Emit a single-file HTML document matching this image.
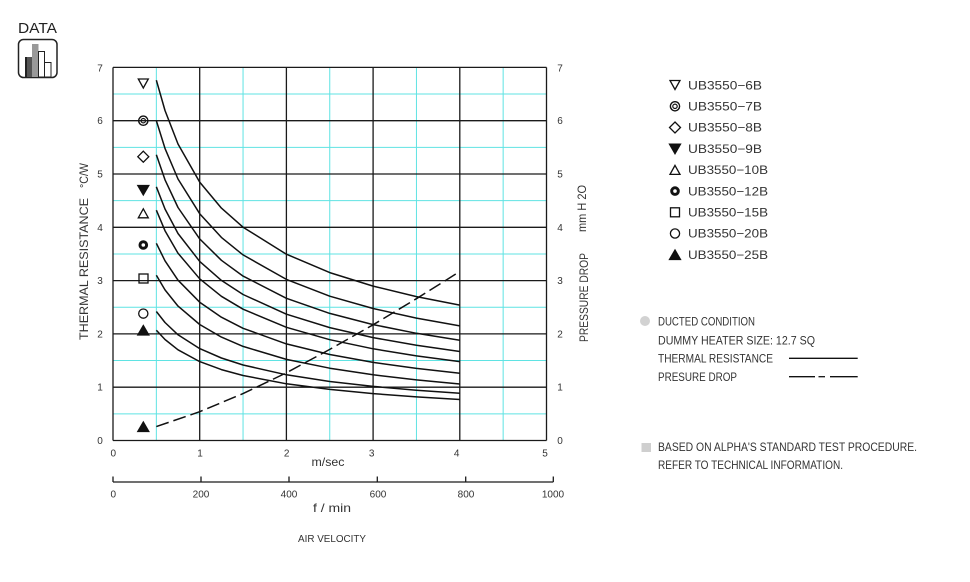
<!DOCTYPE html>
<html><head><meta charset="utf-8"><style>
html,body{margin:0;padding:0;background:#fff;}
svg{display:block;}
text{font-family:"Liberation Sans",sans-serif;fill:#333;}
</style></head><body>
<svg width="970" height="582" viewBox="0 0 970 582" xmlns="http://www.w3.org/2000/svg">
<rect width="970" height="582" fill="#fff"/>

<!-- DATA icon -->
<text x="18" y="33" font-size="15" textLength="39" lengthAdjust="spacingAndGlyphs" style="fill:#222">DATA</text>
<rect x="18.5" y="39.5" width="38.5" height="38" rx="5" fill="#fff" stroke="#222" stroke-width="1.5"/>
<rect x="25" y="57" width="7" height="20" fill="#555"/>
<rect x="25" y="57" width="2" height="20" fill="#222"/>
<rect x="32" y="44" width="6.5" height="33" fill="#999"/>
<rect x="38.5" y="51.5" width="6" height="25.5" fill="#fff" stroke="#222" stroke-width="1"/>
<rect x="44.5" y="62.5" width="6.5" height="14.5" fill="#fff" stroke="#222" stroke-width="1"/>

<!-- cyan half grid -->
<g stroke="#5fe3e3" stroke-width="1">
<line x1="156.35" y1="67.4" x2="156.35" y2="440.5"/>
<line x1="243.05" y1="67.4" x2="243.05" y2="440.5"/>
<line x1="329.75" y1="67.4" x2="329.75" y2="440.5"/>
<line x1="416.45" y1="67.4" x2="416.45" y2="440.5"/>
<line x1="503.15" y1="67.4" x2="503.15" y2="440.5"/>
<line x1="113" y1="413.85" x2="546.5" y2="413.85"/>
<line x1="113" y1="360.55" x2="546.5" y2="360.55"/>
<line x1="113" y1="307.25" x2="546.5" y2="307.25"/>
<line x1="113" y1="253.95" x2="546.5" y2="253.95"/>
<line x1="113" y1="200.65" x2="546.5" y2="200.65"/>
<line x1="113" y1="147.35" x2="546.5" y2="147.35"/>
<line x1="113" y1="94.05" x2="546.5" y2="94.05"/>
</g>
<!-- black grid -->
<g stroke="#1a1a1a" stroke-width="1.3">
<line x1="113" y1="67.4" x2="113" y2="440.5"/>
<line x1="199.7" y1="67.4" x2="199.7" y2="440.5"/>
<line x1="286.4" y1="67.4" x2="286.4" y2="440.5"/>
<line x1="373.1" y1="67.4" x2="373.1" y2="440.5"/>
<line x1="459.8" y1="67.4" x2="459.8" y2="440.5"/>
<line x1="546.5" y1="67.4" x2="546.5" y2="440.5"/>
<line x1="113" y1="440.5" x2="546.5" y2="440.5"/>
<line x1="113" y1="387.2" x2="546.5" y2="387.2"/>
<line x1="113" y1="333.9" x2="546.5" y2="333.9"/>
<line x1="113" y1="280.6" x2="546.5" y2="280.6"/>
<line x1="113" y1="227.3" x2="546.5" y2="227.3"/>
<line x1="113" y1="174" x2="546.5" y2="174"/>
<line x1="113" y1="120.7" x2="546.5" y2="120.7"/>
<line x1="113" y1="67.4" x2="546.5" y2="67.4"/>
</g>

<!-- curves -->
<g fill="none" stroke="#111" stroke-width="1.5" stroke-linejoin="round">
<polyline points="156.35,80.2 165,110.5 178,144 199.7,182.1 221.4,208.1 243.05,227.2 286.4,254.2 329.75,272.6 373.1,286.1 416.45,296.6 459.8,305.1"/>
<polyline points="156.35,120.7 165,148.4 178,179 199.7,213.7 221.4,237.4 243.05,254.9 286.4,279.4 329.75,296.2 373.1,308.5 416.45,318.1 459.8,325.9"/>
<polyline points="156.35,154.8 165,179.8 178,207.5 199.7,238.9 221.4,260.3 243.05,276.1 286.4,298.3 329.75,313.4 373.1,324.6 416.45,333.3 459.8,340.3"/>
<polyline points="156.35,186.8 165,209 178,233.5 199.7,261.4 221.4,280.4 243.05,294.5 286.4,314.2 329.75,327.6 373.1,337.6 416.45,345.3 459.8,351.5"/>
<polyline points="156.35,210.2 165,230.7 178,253.2 199.7,278.8 221.4,296.3 243.05,309.2 286.4,327.3 329.75,339.7 373.1,348.8 416.45,355.9 459.8,361.6"/>
<polyline points="156.35,243.3 165,260.8 178,280.2 199.7,302.2 221.4,317.2 243.05,328.3 286.4,343.9 329.75,354.5 373.1,362.4 416.45,368.4 459.8,373.3"/>
<polyline points="156.35,275.3 165,289.9 178,306.1 199.7,324.5 221.4,337.1 243.05,346.4 286.4,359.4 329.75,368.2 373.1,374.8 416.45,379.9 459.8,384"/>
<polyline points="156.35,311.5 165,322.5 178,334.8 199.7,348.6 221.4,358 243.05,365 286.4,374.8 329.75,381.5 373.1,386.4 416.45,390.2 459.8,393.3"/>
<polyline points="156.35,330.2 165,339.5 178,349.8 199.7,361.6 221.4,369.6 243.05,375.5 286.4,383.8 329.75,389.4 373.1,393.6 416.45,396.9 459.8,399.5"/>
<polyline stroke-dasharray="13 5" points="156.35,426.6 199.7,411.7 243.05,393.6 286.4,372.8 329.75,349.4 373.1,324.8 416.45,298.7 459.8,271.5"/>
</g>

<!-- in-plot markers -->
<g stroke="#111" stroke-width="1.3" fill="none">
<polygon points="138.3,79 148.3,79 143.3,88"/>
<circle cx="143.3" cy="120.7" r="4.6" stroke-width="1.4"/>
<circle cx="143.3" cy="120.7" r="2.2" stroke-width="1.2"/>
<polygon points="143.3,151.2 148.8,156.7 143.3,162.2 137.8,156.7"/>
<polygon points="137.8,185.5 148.8,185.5 143.3,195" fill="#111"/>
<polygon points="143.3,208.8 148.3,217.8 138.3,217.8"/>
<circle cx="143.3" cy="245" r="3.3" stroke-width="3"/>
<rect x="139" y="274" width="9" height="9"/>
<circle cx="143.3" cy="313.6" r="4.6"/>
<polygon points="143.3,325.5 148.8,335 137.8,335" fill="#111"/>
<polygon points="143.3,422 148.8,431.5 137.8,431.5" fill="#111"/>
</g>

<!-- left tick labels -->
<g font-size="10" text-anchor="middle">
<text x="100" y="444">0</text>
<text x="100" y="390.7">1</text>
<text x="100" y="337.4">2</text>
<text x="100" y="284.1">3</text>
<text x="100" y="230.8">4</text>
<text x="100" y="177.5">5</text>
<text x="100" y="124.2">6</text>
<text x="100" y="71.4">7</text>
<text x="560" y="444">0</text>
<text x="560" y="390.7">1</text>
<text x="560" y="337.4">2</text>
<text x="560" y="284.1">3</text>
<text x="560" y="230.8">4</text>
<text x="560" y="177.5">5</text>
<text x="560" y="124.2">6</text>
<text x="560" y="71.4">7</text>
</g>

<!-- m/sec labels -->
<g font-size="10" text-anchor="middle">
<text x="113.3" y="456.7">0</text>
<text x="200" y="456.7">1</text>
<text x="286.7" y="456.7">2</text>
<text x="371.7" y="456.7">3</text>
<text x="456.7" y="456.7">4</text>
<text x="545" y="456.7">5</text>
</g>
<text x="311.5" y="466" font-size="12" textLength="33" lengthAdjust="spacingAndGlyphs">m/sec</text>

<!-- f/min axis -->
<g stroke="#1a1a1a" stroke-width="1.3">
<line x1="113" y1="482" x2="553.3" y2="482"/>
<line x1="113" y1="476.5" x2="113" y2="482"/>
<line x1="201" y1="476.5" x2="201" y2="482"/>
<line x1="289" y1="476.5" x2="289" y2="482"/>
<line x1="377.3" y1="476.5" x2="377.3" y2="482"/>
<line x1="465.7" y1="476.5" x2="465.7" y2="482"/>
<line x1="553.3" y1="476.5" x2="553.3" y2="482"/>
</g>
<g font-size="10" text-anchor="middle">
<text x="113.3" y="497.5">0</text>
<text x="201" y="497.5">200</text>
<text x="289" y="497.5">400</text>
<text x="378" y="497.5">600</text>
<text x="466" y="497.5">800</text>
<text x="553" y="497.5">1000</text>
</g>
<text x="313" y="512" font-size="12" textLength="38" lengthAdjust="spacingAndGlyphs">f / min</text>
<text x="298" y="542" font-size="10.5" textLength="68" lengthAdjust="spacingAndGlyphs">AIR VELOCITY</text>

<!-- axis titles -->
<g transform="translate(88,269) rotate(-90)"><text x="0" y="0" font-size="12" text-anchor="middle" textLength="142" lengthAdjust="spacingAndGlyphs">THERMAL RESISTANCE</text></g>
<g transform="translate(88,175.5) rotate(-90)"><text x="0" y="0" font-size="12" text-anchor="middle" textLength="25" lengthAdjust="spacingAndGlyphs">°C/W</text></g>
<g transform="translate(588,297.5) rotate(-90)"><text x="0" y="0" font-size="12" text-anchor="middle" textLength="89" lengthAdjust="spacingAndGlyphs">PRESSURE DROP</text></g>
<g transform="translate(586,208.5) rotate(-90)"><text x="0" y="0" font-size="12" text-anchor="middle" textLength="47" lengthAdjust="spacingAndGlyphs">mm H 2O</text></g>

<!-- legend markers -->
<g stroke="#111" stroke-width="1.3" fill="none">
<polygon points="670,80.5 680,80.5 675,89.5"/>
<circle cx="675" cy="106.3" r="4.6" stroke-width="1.4"/>
<circle cx="675" cy="106.3" r="2.2" stroke-width="1.2"/>
<polygon points="675,122 680.5,127.5 675,133 669.5,127.5"/>
<polygon points="669.5,144.2 680.5,144.2 675,153.7" fill="#111"/>
<polygon points="675,165.4 680,174.4 670,174.4"/>
<circle cx="675" cy="191.1" r="3.3" stroke-width="3"/>
<rect x="670.5" y="207.8" width="9" height="9"/>
<circle cx="675" cy="233.5" r="4.6"/>
<polygon points="675,250 680.5,259.5 669.5,259.5" fill="#111"/>
</g>
<g font-size="12">
<text x="688" y="89.3" textLength="74" lengthAdjust="spacingAndGlyphs">UB3550−6B</text>
<text x="688" y="110.5" textLength="74" lengthAdjust="spacingAndGlyphs">UB3550−7B</text>
<text x="688" y="131.7" textLength="74" lengthAdjust="spacingAndGlyphs">UB3550−8B</text>
<text x="688" y="152.9" textLength="74" lengthAdjust="spacingAndGlyphs">UB3550−9B</text>
<text x="688" y="174.1" textLength="80" lengthAdjust="spacingAndGlyphs">UB3550−10B</text>
<text x="688" y="195.3" textLength="80" lengthAdjust="spacingAndGlyphs">UB3550−12B</text>
<text x="688" y="216.5" textLength="80" lengthAdjust="spacingAndGlyphs">UB3550−15B</text>
<text x="688" y="237.7" textLength="80" lengthAdjust="spacingAndGlyphs">UB3550−20B</text>
<text x="688" y="258.9" textLength="80" lengthAdjust="spacingAndGlyphs">UB3550−25B</text>
</g>

<!-- lower legend -->
<circle cx="645" cy="321" r="5" fill="#d2d2d2"/>
<g font-size="12">
<text x="658" y="325.7" textLength="97" lengthAdjust="spacingAndGlyphs">DUCTED CONDITION</text>
<text x="658" y="344.3" textLength="157" lengthAdjust="spacingAndGlyphs">DUMMY HEATER SIZE: 12.7 SQ</text>
<text x="658" y="362.7" textLength="115" lengthAdjust="spacingAndGlyphs">THERMAL RESISTANCE</text>
<text x="658" y="381" textLength="79" lengthAdjust="spacingAndGlyphs">PRESURE DROP</text>
<text x="658" y="451" textLength="259" lengthAdjust="spacingAndGlyphs">BASED ON ALPHA'S STANDARD TEST PROCEDURE.</text>
<text x="658" y="469" textLength="185" lengthAdjust="spacingAndGlyphs">REFER TO TECHNICAL INFORMATION.</text>
</g>
<g stroke="#111" stroke-width="1.3">
<line x1="789" y1="358.3" x2="857.7" y2="358.3"/>
<line x1="789" y1="376.7" x2="815" y2="376.7"/>
<line x1="818.5" y1="376.7" x2="825" y2="376.7"/>
<line x1="830" y1="376.7" x2="857.7" y2="376.7"/>
</g>
<rect x="641.5" y="443" width="9.5" height="9" fill="#cfcfcf"/>
</svg>
</body></html>
